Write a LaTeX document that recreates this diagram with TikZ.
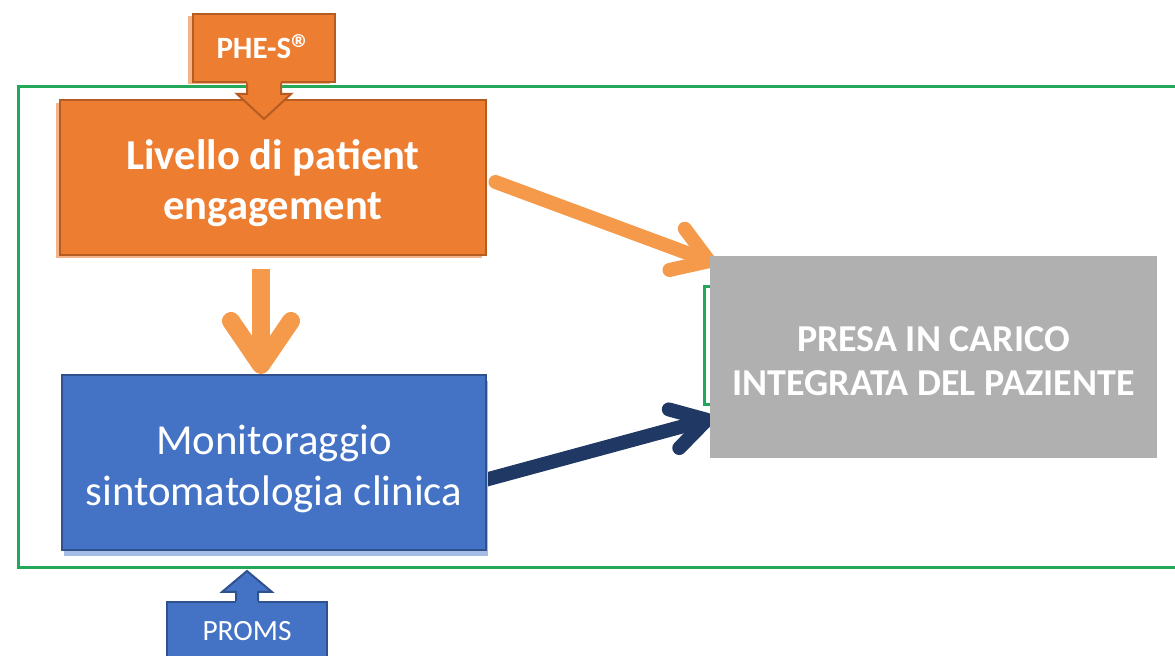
\documentclass[tikz,border=0pt]{standalone}
\usepackage{fontspec}
\setmainfont{Carlito}
\usepackage{tikz}
\usetikzlibrary{arrows.meta, positioning, shadows, backgrounds}
\usepackage{xcolor}
\definecolor{EngOrange}{RGB}{237,125,49}
\definecolor{EngEdge}{RGB}{180,92,34}
\definecolor{EngShadow}{RGB}{244,180,135}
\definecolor{MonBlue}{RGB}{68,114,196}
\definecolor{MonEdge}{RGB}{47,82,143}
\definecolor{MonShadow}{RGB}{165,188,230}
\definecolor{CareGray}{RGB}{176,176,176}
\definecolor{FrameGreen}{RGB}{35,168,90}
\definecolor{ArrowOrange}{RGB}{244,154,74}
\definecolor{ArrowNavy}{RGB}{32,56,100}

\begin{document}
\begin{tikzpicture}[x=0.5pt, y=-0.5pt,
          engbox/.style={rectangle, draw=EngEdge, fill=EngOrange, line width=1pt, minimum width=213pt, minimum height=77.5pt, text=white, align=center, font=\fontsize{21.3}{25}\selectfont\bfseries, drop shadow={shadow xshift=-2pt, shadow yshift=-1.5pt, fill=EngShadow, opacity=1}},
          monbox/.style={rectangle, draw=MonEdge, fill=MonBlue, line width=1pt, minimum width=212pt, minimum height=87.5pt, text=white, align=center, font=\fontsize{21.4}{25.5}\selectfont, drop shadow={shadow xshift=1pt, shadow yshift=-3pt, fill=MonShadow, opacity=1}},
          carebox/.style={rectangle, fill=CareGray, minimum width=223.5pt, minimum height=101pt, text=white, align=center, font=\fontsize{19}{22}\selectfont\bfseries},
          tagbox/.style={rectangle, line width=1pt, text=white, align=center},
          frameline/.style={FrameGreen, line width=1.5pt},
          orarrow/.style={ArrowOrange, line width=9pt, -{Straight Barb[length=22pt, width=30pt, round]}},
          diagarrow/.style={ArrowOrange, line width=7pt, line cap=round, -{Straight Barb[length=17pt, width=22pt, round]}},
          navyarrow/.style={ArrowNavy, line width=7pt, -{Straight Barb[length=17pt, width=20pt, round]}}
        ]
          \useasboundingbox (0,0) rectangle (1175,656);
          \clip (0,0) rectangle (1175,656);

          \node (live) [engbox] at (273,177.5) {\rule{0pt}{21pt}Livello di patient\\engagement};
          \node (moni) [monbox] at (274,462.5) {\rule{0pt}{21pt}Monitoraggio\\sintomatologia clinica};
          \node (care) [carebox] at (933.5,357) {\rule{0pt}{17pt}PRESA IN CARICO\\INTEGRATA DEL PAZIENTE};

          % PHE-S tag pointing down
          \node (phe) [tagbox, fill=EngOrange, draw=EngEdge, minimum width=71pt, minimum height=34pt, font=\fontsize{15.5}{18}\selectfont\bfseries, drop shadow={shadow xshift=-2.5pt, shadow yshift=-1pt, fill=EngShadow, opacity=1}] at (264,48) {PHE-S\raisebox{-2pt}[0pt][0pt]{\fontsize{20}{20}\selectfont ®}};
          \fill[EngOrange] ([shift={(-17,-2)}]phe.south) -- ++(0,13) -- ++(-10,0) -- ++(27,25) -- ++(27,-25) -- ++(-10,0) -- ++(0,-13) -- cycle;
          \draw[EngEdge, line width=1pt, line join=miter] ([shift={(-17,0)}]phe.south) -- ++(0,11) -- ++(-10,0) -- ++(27,25) -- ++(27,-25) -- ++(-10,0) -- ++(0,-11);

          % PROMS tag pointing up
          \node (proms) [tagbox, fill=MonBlue, draw=MonEdge, minimum width=80pt, minimum height=29pt, font=\fontsize{14.7}{17}\selectfont] at (247,631) {PROMS};
          \fill[MonBlue] ([shift={(-11,2)}]proms.north) -- ++(0,-11) -- ++(-14,0) -- ++(25,-21) -- ++(25,21) -- ++(-14,0) -- ++(0,11) -- cycle;
          \draw[MonEdge, line width=1pt, line join=miter] ([shift={(-11,0)}]proms.north) -- ++(0,-9) -- ++(-14,0) -- ++(25,-21) -- ++(25,21) -- ++(-14,0) -- ++(0,9);

          \begin{scope}[on background layer]
            \clip (0,0) rectangle (1175,656);
            \draw[frameline] (1180,87) -- (18,87) -- (18,568) -- (1180,568);
            \draw[frameline] (800,287) -| (704,405) -- (800,405);
            \draw[orarrow] ([shift={(-12,13)}]live.south) -- ([shift={(-13,0)}]moni.north);
            \draw[diagarrow] ([shift={(8.5,4.5)}]live.east) -- ([shift={(6,8)}]care.north west);
            \draw[navyarrow] ([shift={(-4,18)}]moni.east) -- ([shift={(4,61)}]care.west);
          \end{scope}
        \end{tikzpicture}
\end{document}
